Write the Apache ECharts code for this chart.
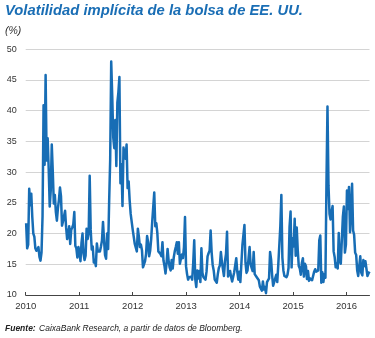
<!DOCTYPE html>
<html><head><meta charset="utf-8">
<script src="https://cdn.jsdelivr.net/npm/echarts@6/dist/echarts.min.js"></script>
<style>html,body{margin:0;padding:0;background:#fff}#c{width:375px;height:338px}</style>
</head><body><div id="c"></div>
<script>
// Weekly readings (Mondays) starting 2010-01-04
const firstWeek = [2010, 0, 4];
const vix2010 = [21.7,17.6,18.2,27.3,24.6,26.5,22.7,20.0,19.5,17.6,17.2,16.9,17.8,16.2,15.6,16.9,22.8,40.9,31.2,45.8,31.9,35.5,30.6,24.4,27.0,34.5,30.1,24.9,26.3,23.5,22.1,24.1,25.5,27.5,26.1,21.3,22.0,22.0,23.7,21.0,19.1,19.8,21.2,18.3,20.6,21.0,21.5,23.5,18.0,17.6,16.1,17.8];
const vix2011 = [17.1,15.5,18.5,20.0,16.7,15.7,16.4,20.8,19.1,20.1,29.4,20.6,17.4,17.9,15.3,15.7,14.7,18.4,17.1,17.4,17.1,17.9,18.9,21.9,18.9,16.5,15.9,20.0,17.5,25.3,32.0,48.0,42.4,35.6,33.9,38.5,31.0,41.3,43.0,45.5,28.2,31.3,24.5,34.0,32.8,32.2,34.5,27.4,28.5,25.4,23.2,23.4];
const vix2012 = [20.6,20.9,18.3,18.5,17.1,20.8,19.5,17.8,18.2,17.3,14.5,15.0,15.5,16.7,19.6,18.6,16.3,17.2,19.1,21.9,21.8,26.7,21.2,21.7,20.1,17.1,17.1,16.7,16.3,18.6,15.6,14.7,13.5,15.2,17.5,15.6,14.5,14.0,15.7,14.3,16.1,17.1,17.8,18.6,16.7,18.6,15.1,15.9,16.6,16.0,17.8,22.7];
const vix2013 = [14.7,13.4,12.5,12.9,12.9,13.0,12.5,15.2,18.9,12.6,11.3,14.0,12.7,13.9,12.1,17.6,13.6,12.9,12.6,12.5,13.8,16.3,16.8,17.2,20.5,16.9,14.9,14.0,12.5,12.7,12.0,13.4,14.4,14.8,17.0,15.4,14.2,13.1,15.5,16.7,20.3,13.0,13.1,13.9,12.9,12.2,12.3,13.7,13.8,16.0,13.8,12.5];
const vix2014 = [13.8,12.1,12.4,18.1,18.4,21.4,15.3,13.6,14.0,16.0,17.8,15.0,14.4,13.9,17.0,13.4,13.3,12.9,12.9,12.4,11.4,11.7,10.7,12.2,10.9,11.3,10.3,12.1,12.1,12.7,17.0,15.8,13.2,11.5,12.1,12.1,13.3,12.1,14.9,14.6,21.2,26.3,16.1,14.0,13.1,13.3,12.9,13.3,14.4,21.1,23.6,14.5];
const vix2015 = [19.2,17.9,22.4,16.4,21.0,17.3,14.7,14.3,13.3,15.2,16.0,13.0,15.1,14.7,12.6,13.9,12.3,12.7,12.9,12.4,12.1,13.8,14.2,13.8,14.0,14.0,18.9,19.7,12.0,13.7,12.1,13.4,12.8,28.0,40.7,27.8,23.2,22.3,23.6,24.5,17.1,16.2,14.5,15.1,14.3,20.1,15.5,15.1,14.8,22.7,24.4,16.9];
const vix2016 = [18.2,27.0,24.0,27.6,20.2,23.4,28.1,20.5,19.8,16.9,16.5,14.0,13.1,13.1,16.3,13.6,13.2,15.7,14.7,15.5,15.2,13.1,13.5,13.8];
const yearLabels = [2010, 2011, 2012, 2013, 2014, 2015, 2016];
const yMin = 10, yMax = 50, yStep = 5;

const values = [].concat(vix2010, vix2011, vix2012, vix2013, vix2014, vix2015, vix2016);
const t0 = Date.UTC(firstWeek[0], firstWeek[1], firstWeek[2]);
const yearStart = Date.UTC(2010, 0, 1);
const dayMs = 864e5;
const points = values.map((v, i) => [2010 + (t0 + i * 7 * dayMs - yearStart) / (365.25 * dayMs), v]);
const xMax = points[points.length - 1][0];

const chart = echarts.init(document.getElementById('c'), null, {renderer: 'canvas'});
chart.setOption({
  animation: false,
  backgroundColor: '#fff',
  grid: {left: 25.7, right: 5.5, top: 49.3, bottom: 43, containLabel: false},
  graphic: [
    {type: 'text', left: 5, top: 3, style: {text: 'Volatilidad implícita de la bolsa de EE. UU.', font: 'italic bold 14.8px "Liberation Sans", Arial, sans-serif', fill: '#1a6eb5'}},
    {type: 'text', left: 5, top: 25.5, style: {text: '(%)', font: 'italic 10.5px "Liberation Sans", Arial, sans-serif', fill: '#333'}},
    {type: 'text', left: 5, top: 323, style: {
      text: '{b|Fuente:} {r|CaixaBank Research, a partir de datos de Bloomberg.}',
      rich: {
        b: {font: 'italic bold 8.5px "Liberation Sans", Arial, sans-serif', fill: '#222'},
        r: {font: 'italic 8.5px "Liberation Sans", Arial, sans-serif', fill: '#222'}
      }
    }}
  ],
  xAxis: {
    type: 'value', min: 2010, max: xMax,
    axisLine: {show: true, lineStyle: {color: '#444', width: 1}},
    axisTick: {show: true, inside: true, length: 3, customValues: yearLabels, lineStyle: {color: '#444'}},
    axisLabel: {customValues: yearLabels, formatter: v => String(Math.round(v)), fontSize: 9.5, color: '#333', margin: 6, fontFamily: '"Liberation Sans", Arial, sans-serif'},
    splitLine: {show: false}
  },
  yAxis: {
    type: 'value', min: yMin, max: yMax, interval: yStep,
    axisLine: {show: false}, axisTick: {show: false},
    axisLabel: {fontSize: 9, color: '#333', margin: 9, fontFamily: '"Liberation Sans", Arial, sans-serif'},
    splitLine: {show: true, lineStyle: {color: '#d4d4d4', width: 1}}
  },
  series: [{
    type: 'line', data: points, showSymbol: false, symbol: 'none',
    lineStyle: {color: '#176db5', width: 2.5, join: 'round'}, z: 3
  }]
});
</script></body></html>
